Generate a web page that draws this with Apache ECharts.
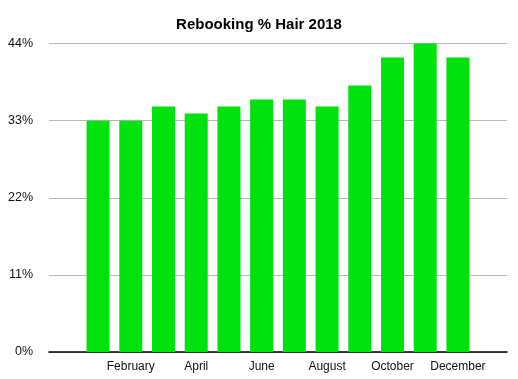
<!DOCTYPE html>
<html>
<head>
<meta charset="utf-8">
<script src="https://cdn.jsdelivr.net/npm/echarts@6/dist/echarts.min.js"></script>
<style>html,body{margin:0;padding:0;background:#fff}#c{width:518px;height:379px}</style>
</head>
<body>
<div id="c"></div>
<script>
var months = ['January','February','March','April','May','June','July','August','September','October','November','December'];
var rebooking = [33, 33, 35, 34, 35, 36, 36, 35, 38, 42, 44, 42];
var yTicks = [0, 11, 22, 33, 44];

var categories = [''].concat(months, ['']);
var seriesData = [null].concat(rebooking, [null]);

var chart = echarts.init(document.getElementById('c'));
chart.setOption({
  animation: false,
  backgroundColor: '#fff',
  title: {
    text: 'Rebooking % Hair 2018',
    left: 'center',
    top: 12,
    textStyle: {fontFamily: 'Liberation Sans', fontSize: 15, fontWeight: 'bold', color: '#000'}
  },
  grid: {left: 49, right: 11, top: 43.5, bottom: 27, containLabel: false},
  xAxis: {
    type: 'category',
    data: categories,
    axisTick: {show: false},
    axisLine: {lineStyle: {color: '#000', width: 1.5}},
    axisLabel: {interval: 1, color: '#111', fontFamily: 'Liberation Sans', fontSize: 12, margin: 9}
  },
  yAxis: {
    type: 'value',
    min: yTicks[0],
    max: yTicks[yTicks.length - 1],
    interval: 11,
    axisLine: {show: false},
    axisTick: {show: false},
    splitLine: {lineStyle: {color: '#b8b8b8', width: 1}},
    axisLabel: {formatter: '{value}%', color: '#111', fontFamily: 'Liberation Sans', fontSize: 12.5, margin: 16}
  },
  series: [{
    type: 'bar',
    data: seriesData,
    barWidth: 23,
    itemStyle: {color: '#00e20e'}
  }]
});
</script>
</body>
</html>
